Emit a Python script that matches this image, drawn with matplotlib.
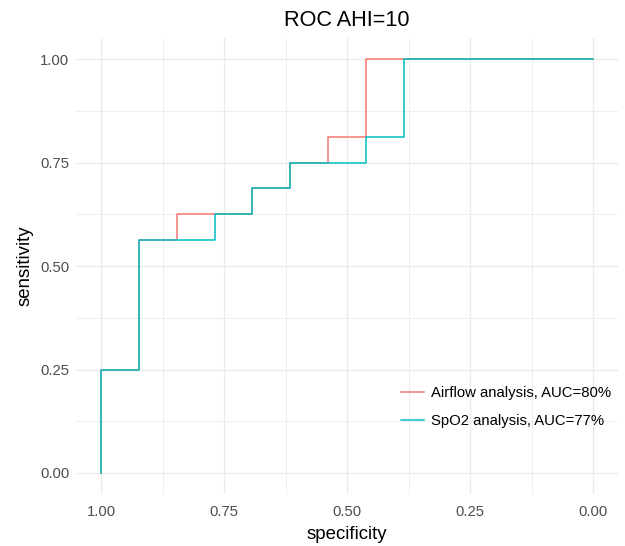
import matplotlib
matplotlib.use("Agg")
import matplotlib.pyplot as plt
from matplotlib.ticker import MultipleLocator
import numpy as np

plt.rcParams['font.family'] = ['Liberation Sans', 'DejaVu Sans']

# ROC step points (specificity, sensitivity)
airflow_spec = [1.0, 1.0, 12/13, 12/13, 11/13, 11/13, 9/13, 9/13, 8/13, 8/13, 7/13, 7/13, 6/13, 6/13, 0.0]
airflow_sens = [0.0, 4/16, 4/16, 9/16, 9/16, 10/16, 10/16, 11/16, 11/16, 12/16, 12/16, 13/16, 13/16, 1.0, 1.0]

spo2_spec = [1.0, 1.0, 12/13, 12/13, 10/13, 10/13, 9/13, 9/13, 8/13, 8/13, 6/13, 6/13, 5/13, 5/13, 0.0]
spo2_sens = [0.0, 4/16, 4/16, 9/16, 9/16, 10/16, 10/16, 11/16, 11/16, 12/16, 12/16, 13/16, 13/16, 1.0, 1.0]

labels = ["Airflow analysis, AUC=80%", "SpO2 analysis, AUC=77%"]
colors = ["#F8766D", "#00BFC4"]
ticks = [1.00, 0.75, 0.50, 0.25, 0.00]
tick_labels = ["1.00", "0.75", "0.50", "0.25", "0.00"]
yticks = [0.00, 0.25, 0.50, 0.75, 1.00]
ytick_labels = ["0.00", "0.25", "0.50", "0.75", "1.00"]

fig = plt.figure(figsize=(6.25, 5.46), dpi=100)
W, H = 625, 546
left, right, top, bottom = 76.4, 617.6, 38.3, 493.7
ax = fig.add_axes([left / W, 1 - bottom / H, (right - left) / W, (bottom - top) / H])

ax.plot(airflow_spec, airflow_sens, color=colors[0], lw=1.1, label=labels[0], zorder=3)
ax.plot(spo2_spec, spo2_sens, color=colors[1], lw=1.1, label=labels[1], zorder=4)

ax.set_xlim(1.05, -0.05)
ax.set_ylim(-0.05, 1.05)
ax.set_xticks(ticks)
ax.set_xticklabels(tick_labels)
ax.set_yticks(yticks)
ax.set_yticklabels(ytick_labels)
ax.xaxis.set_minor_locator(MultipleLocator(0.125))
ax.yaxis.set_minor_locator(MultipleLocator(0.125))
ax.grid(which='major', color='#EBEBEB', lw=1.0, zorder=0)
ax.grid(which='minor', color='#EBEBEB', lw=0.6, zorder=0)
ax.set_axisbelow(True)
for s in ax.spines.values():
    s.set_visible(False)
ax.tick_params(which='both', length=0, labelsize=10.7, labelcolor='#4D4D4D')
ax.tick_params(axis='x', pad=8)
ax.tick_params(axis='y', pad=5)

ax.set_xlabel("specificity", fontsize=13.4, labelpad=5)
ax.set_ylabel("sensitivity", fontsize=13.4, labelpad=5)
ax.set_title("ROC AHI=10", fontsize=15.6, pad=9)

leg = ax.legend(loc='center left', bbox_to_anchor=(401 / W, 1 - 407 / H), bbox_transform=fig.transFigure,
                frameon=False, fontsize=10.7, handlelength=1.55, handletextpad=0.5, labelspacing=0.95,
                borderpad=0, borderaxespad=0)

fig.savefig("out.png", dpi=100)
